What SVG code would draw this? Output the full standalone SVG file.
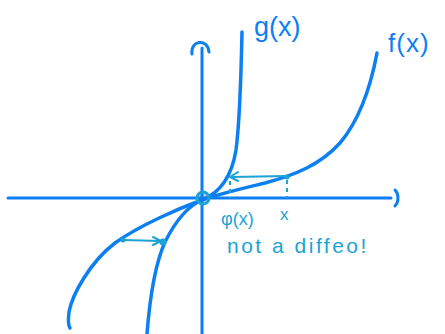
<svg xmlns="http://www.w3.org/2000/svg" width="445" height="334" viewBox="0 0 445 334">
<style>
.ax{fill:none;stroke:#0c7ff2;stroke-width:3;stroke-linecap:round}
.cv{fill:none;stroke:#0c7ff2;stroke-width:3.5;stroke-linecap:round}
.an{fill:none;stroke:#1ba3d6;stroke-width:2;stroke-linecap:round}
.dash{fill:none;stroke:#1ba3d6;stroke-width:2;stroke-dasharray:4 4}
.lb{font-family:"Liberation Sans",sans-serif;fill:#0c7ff2}
.la{font-family:"Liberation Sans",sans-serif;fill:#1ba3d6}
</style>
<rect width="445" height="334" fill="#fff"/>
<g id="connectors">
<path class="ax" d="M8,198 L391,198"/>
<path class="ax" d="M395,190 C399,194 399,202 395,206"/>
<path class="ax" d="M202,334 L202,48"/>
<path class="ax" d="M192,54 C190,40 208,38 209,52"/>
</g>
<g id="g-curve">
<path class="cv" d="M242,32 C241,80 240,120 236,150 C232,175 222,192 202,200 C188,206 175,222 165,242 C156,262 150,295 147,334"/>
</g>
<g id="f-curve">
<path class="cv" d="M377,53 C371,85 361,118 340,143 C320,165 295,175 265,183 C240,189 218,194 202,200 C180,208 140,225 115,243 C90,262 72,295 69,312 C68,320 68,325 70,328"/>
</g>
<g id="origin">
<circle cx="203" cy="198" r="6" fill="#0c7ff2" fill-opacity="0.3" stroke="#1ba3d6" stroke-width="3"/>
</g>
<g id="upper-annotation">
<path class="dash" d="M287,180 L287,198"/>
<path class="dash" d="M230,181 L230,198"/>
<path class="an" d="M287,176 L231,177"/>
<path class="an" d="M238,172 L230,177 L238,181"/>
<circle cx="287" cy="177" r="2.5" fill="#1ba3d6"/>
</g>
<g id="lower-annotation">
<path class="an" d="M123,240 L160,241"/>
<path class="an" d="M153,237 L161,241 L153,245"/>
<circle cx="163" cy="242" r="3.5" fill="#1ba3d6"/>
<circle cx="123" cy="240" r="2.5" fill="#1ba3d6"/>
</g>
<g id="labels">
<text class="lb" x="254" y="36" font-size="27">g(x)</text>
<text class="lb" x="388" y="52" font-size="26" letter-spacing="1">f(x)</text>
<text class="la" x="221" y="225" font-size="18">φ(x)</text>
<text class="la" x="280" y="220" font-size="17">x</text>
<text class="la" x="227" y="253" font-size="21" letter-spacing="2.5">not  a  diffeo!</text>
</g>
</svg>
